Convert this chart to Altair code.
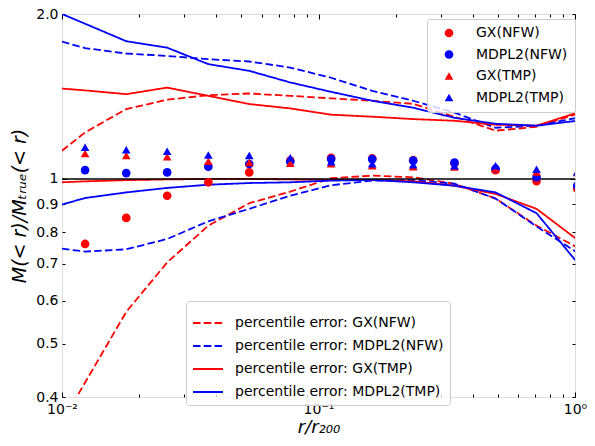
import altair as alt
import pandas as pd

FONT = "DejaVu Sans"

# radial bins (r / r200)
x_pts = [0.0123, 0.0178, 0.0257, 0.0372, 0.0537, 0.0776, 0.112, 0.162, 0.234, 0.339, 0.490, 0.708, 1.02]
x_lines = [0.01] + x_pts

# median ratios (markers)
gx_nfw = [0.761, 0.849, 0.932, 0.986, 1.028, 1.080, 1.093, 1.090, 1.082, 1.068, 1.038, 0.991, 0.960]
mdpl2_nfw = [1.038, 1.025, 1.028, 1.053, 1.065, 1.075, 1.087, 1.087, 1.080, 1.071, 1.044, 1.007, 0.972]
gx_tmp = [1.113, 1.103, 1.098, 1.077, 1.072, 1.068, 1.066, 1.057, 1.053, 1.051, 1.044, 1.030, 1.027]
mdpl2_tmp = [1.142, 1.131, 1.123, 1.106, 1.103, 1.093, 1.075, 1.066, 1.062, 1.057, 1.057, 1.042, 1.031]

# percentile error bands (upper / lower)
gx_nfw_hi = [1.126, 1.216, 1.341, 1.395, 1.422, 1.432, 1.418, 1.403, 1.389, 1.371, 1.299, 1.225, 1.245, 1.315]
gx_nfw_lo = [0.36, 0.425, 0.572, 0.704, 0.822, 0.903, 0.948, 1.003, 1.014, 1.007, 0.98, 0.921, 0.822, 0.75]
mdpl2_nfw_hi = [1.781, 1.733, 1.694, 1.677, 1.654, 1.638, 1.597, 1.530, 1.448, 1.389, 1.321, 1.240, 1.251, 1.293]
mdpl2_nfw_lo = [0.746, 0.737, 0.744, 0.777, 0.837, 0.882, 0.932, 0.974, 0.993, 0.995, 0.98, 0.921, 0.819, 0.734]
gx_tmp_hi = [1.462, 1.451, 1.428, 1.468, 1.418, 1.370, 1.345, 1.310, 1.299, 1.286, 1.277, 1.256, 1.251, 1.321]
gx_tmp_lo = [0.986, 0.990, 0.995, 0.998, 1.0, 1.0, 0.998, 0.996, 0.996, 0.99, 0.972, 0.939, 0.882, 0.775]
mdpl2_tmp_hi = [2.0, 1.92, 1.784, 1.736, 1.620, 1.575, 1.500, 1.442, 1.389, 1.349, 1.293, 1.261, 1.251, 1.277]
mdpl2_tmp_lo = [0.898, 0.923, 0.945, 0.963, 0.976, 0.983, 0.986, 0.993, 0.996, 0.986, 0.972, 0.945, 0.866, 0.704]

series_names = ["GX(NFW)", "MDPL2(NFW)", "GX(TMP)", "MDPL2(TMP)"]
line_names = ["percentile error: " + s for s in series_names]
colors = ["#ff0000", "#0000ff", "#ff0000", "#0000ff"]

x_major = [0.01, 0.1, 1]
x_minor = [0.02, 0.03, 0.04, 0.05, 0.06, 0.07, 0.08, 0.09, 0.2, 0.3, 0.4, 0.5, 0.6, 0.7, 0.8, 0.9]
y_major = [1]
y_minor = [0.4, 0.5, 0.6, 0.7, 0.8, 0.9, 2]
y_labels = [0.4, 0.5, 0.6, 0.7, 0.8, 0.9, 1, 2]

pts_rows = []
for name, vals in zip(series_names, [gx_nfw, mdpl2_nfw, gx_tmp, mdpl2_tmp]):
    for x, v in zip(x_pts, vals):
        pts_rows.append({"r": x, "ratio": v, "series": name})
pts = pd.DataFrame(pts_rows)

line_rows = []
for name, hi, lo in zip(line_names,
                        [gx_nfw_hi, mdpl2_nfw_hi, gx_tmp_hi, mdpl2_tmp_hi],
                        [gx_nfw_lo, mdpl2_nfw_lo, gx_tmp_lo, mdpl2_tmp_lo]):
    for bound, vals in (("hi", hi), ("lo", lo)):
        for x, v in zip(x_lines, vals):
            line_rows.append({"r": x, "ratio": v, "lseries": name, "key": name + bound})
lines_df = pd.DataFrame(line_rows)

W, H = 513, 383
xscale = alt.Scale(type="log", domain=[0.01, 1], nice=False)
yscale = alt.Scale(type="log", domain=[0.4, 2.0], nice=False)


def tick_axis(orient, offset, values, size):
    return alt.Axis(orient=orient, offset=offset, values=values, labels=False,
                    ticks=True, tickSize=size, tickColor="black", tickWidth=1,
                    domain=False, grid=False, title=None)


x_label_axis = alt.Axis(
    orient="bottom", values=x_major, ticks=False, domain=False, grid=False,
    labelExpr="datum.value < 0.05 ? '10⁻²' : (datum.value < 0.5 ? '10⁻¹' : '10⁰')",
    labelFont=FONT, labelFontSize=14, labelColor="black", labelPadding=5,
    labelFlush=False, labelOverlap=False,
    title="r/r₂₀₀", titleFont=FONT, titleFontSize=18, titleFontStyle="italic",
    titleFontWeight="normal", titleColor="black", titleBaseline="top", titleY=21)

y_label_axis = alt.Axis(
    orient="left", values=y_labels, ticks=False, domain=False, grid=False,
    labelExpr="datum.value > 1.5 ? '2.0' : (datum.value > 0.95 ? '1' : format(datum.value, '.1f'))",
    labelFont=FONT, labelFontSize=14, labelColor="black", labelPadding=4,
    labelFlush=False, labelOverlap=False,
    title="M(< r)/Mₜᵣᵤₑ(< r)", titleFont=FONT, titleFontSize=19, titleFontStyle="italic",
    titleFontWeight="normal", titleColor="black", titleAngle=270,
    titleBaseline="middle", titleX=-43, titleY=H / 2)

pt_legend = alt.Legend(
    title=None, orient="none", legendX=365, legendY=5, direction="vertical",
    fillColor="rgba(255,255,255,0.8)", strokeColor="#cccccc", cornerRadius=3,
    padding=7, labelFont=FONT, labelFontSize=14, labelColor="black", labelLimit=300,
    rowPadding=7.5, symbolOffset=8, labelOffset=20, symbolStrokeWidth=0)

line_legend = alt.Legend(
    title=None, orient="none", legendX=124, legendY=287, direction="vertical",
    fillColor="rgba(255,255,255,0.8)", strokeColor="#cccccc", cornerRadius=3,
    padding=6, labelFont=FONT, labelFontSize=14, labelColor="black", labelLimit=400,
    rowPadding=-8, symbolType="stroke", symbolSize=900, symbolStrokeWidth=2,
    symbolOffset=0, labelOffset=11)

lines_layer = alt.Chart(lines_df).mark_line(strokeWidth=1.8, clip=True).encode(
    x=alt.X("r:Q", scale=xscale, axis=x_label_axis),
    y=alt.Y("ratio:Q", scale=yscale, axis=y_label_axis),
    color=alt.Color("lseries:N", scale=alt.Scale(domain=line_names, range=colors), legend=line_legend),
    strokeDash=alt.StrokeDash("lseries:N", scale=alt.Scale(domain=line_names,
                              range=[[7.5, 3.3], [7.5, 3.3], [1, 0], [1, 0]]), legend=line_legend),
    detail="key:N",
)

hline = alt.Chart(pd.DataFrame({"one": [1.0]})).mark_rule(color="black", strokeWidth=1.5).encode(
    y=alt.Y("one:Q", scale=yscale, axis=None))

points_layer = alt.Chart(pts).mark_point(filled=True, opacity=1, clip=True).encode(
    x=alt.X("r:Q", scale=xscale, axis=tick_axis("top", -H, x_major, 5)),
    y=alt.Y("ratio:Q", scale=yscale, axis=tick_axis("right", -W, y_major, 5)),
    color=alt.Color("series:N", scale=alt.Scale(domain=series_names, range=colors), legend=pt_legend),
    shape=alt.Shape("series:N", scale=alt.Scale(domain=series_names,
                    range=["circle", "circle", "triangle-up", "triangle-up"]), legend=pt_legend),
    size=alt.Size("series:N", scale=alt.Scale(domain=series_names, range=[75, 75, 95, 95]), legend=pt_legend),
)

d1 = alt.Chart(pts).mark_point(opacity=0).encode(
    x=alt.X("r:Q", scale=xscale, axis=tick_axis("top", -H, x_minor, 3)),
    y=alt.Y("ratio:Q", scale=yscale, axis=tick_axis("right", -W, y_minor, 3)))
d2 = alt.Chart(pts).mark_point(opacity=0).encode(
    x=alt.X("r:Q", scale=xscale, axis=tick_axis("bottom", -H, x_major, 5)),
    y=alt.Y("ratio:Q", scale=yscale, axis=tick_axis("left", -W, y_major, 5)))
d3 = alt.Chart(pts).mark_point(opacity=0).encode(
    x=alt.X("r:Q", scale=xscale, axis=tick_axis("bottom", -H, x_minor, 3)),
    y=alt.Y("ratio:Q", scale=yscale, axis=tick_axis("left", -W, y_minor, 3)))

chart = alt.layer(lines_layer, hline, points_layer, d1, d2, d3).resolve_scale(
    color="independent", shape="independent", size="independent", strokeDash="independent"
).resolve_axis(
    x="independent", y="independent"
).properties(
    width=W, height=H,
    autosize=alt.AutoSizeParams(type="none"),
    padding={"left": 54, "top": 6, "right": 12, "bottom": 41},
).configure_view(stroke="black", strokeWidth=1.5).configure(font=FONT)

chart.save("out.html", embed_options={"renderer": "svg", "actions": False})
